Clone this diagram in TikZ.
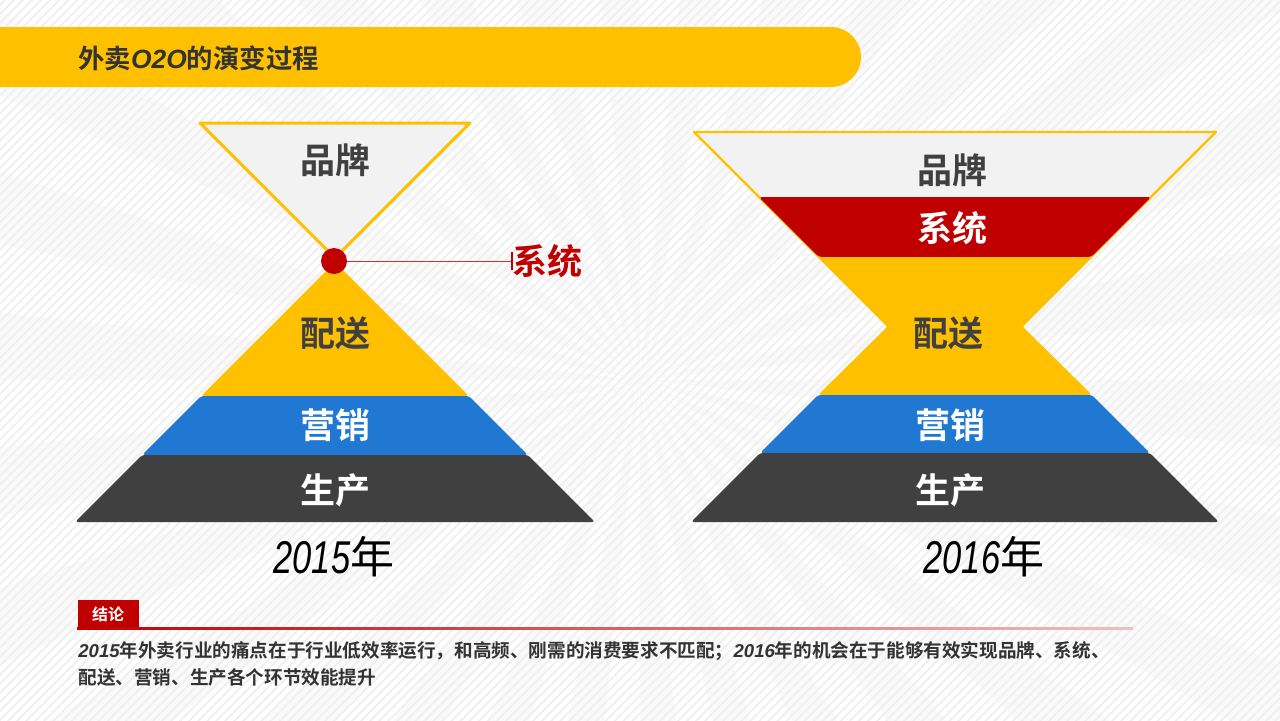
\documentclass[tikz,border=0pt]{standalone}
\usepackage{fontspec}
\usetikzlibrary{patterns.meta}
\newfontfamily\cjk{Noto Sans CJK SC}
\newfontfamily\cjkb{Noto Sans CJK SC Bold}
\newfontfamily\latb{Liberation Sans}
\newfontfamily\yearfont{Liberation Sans}[FakeStretch=0.75]

\definecolor{yel}{HTML}{FFC000}
\definecolor{redd}{HTML}{C00000}
\definecolor{blu}{HTML}{2178D2}
\definecolor{dgray}{HTML}{404040}
\definecolor{lgray}{HTML}{F2F2F2}
\definecolor{ink}{HTML}{333333}

\tikzset{
  layer/.style={font=\cjkb\fontsize{17.5}{20}\selectfont, inner sep=0pt},
  darktxt/.style={layer, text=dgray},
  lighttxt/.style={layer, text=white},
  yeartxt/.style={inner sep=0pt, font=\fontsize{23}{26}\selectfont},
  band/.style={rounded corners=1.5pt}
}

\begin{document}
\begin{tikzpicture}[x=0.5pt,y=-0.5pt]
            \useasboundingbox (0,0) rectangle (1280,720);
            \begin{scope}
            \clip (0,0) rectangle (1280,720);
            \fill[white] (0,0) rectangle (1280,720);
            \foreach \a in {0,12,...,348}
              \fill[gray!4] (640,380) -- +(\a:1700) -- +(\a+6:1700) -- cycle;
            \fill[pattern={Lines[angle=45,distance=3.2pt,line width=1pt]}, pattern color=gray!12] (0,0) rectangle (1280,720);
            \end{scope}

            % title bar
            \fill[yel, rounded corners=15pt] (-40,27) rectangle (861,87);
            \node[anchor=west, inner sep=0pt, text=ink, font=\cjkb\fontsize{13.2}{16}\selectfont] (title) at (78,58)
              {外卖{\latb\bfseries\itshape O2O}的演变过程};

            % 2015
            \filldraw[lgray, draw=yel, line width=1.5pt, line join=round] (200,123) -- (470,123) -- (335,258) -- cycle;
            \fill[yel, band] (335,262) -- (469,396) -- (201,396) -- cycle;
            \fill[blu, band] (201,396) -- (469,396) -- (528,455) -- (142,455) -- cycle;
            \fill[dgray, band] (142,455) -- (528,455) -- (595,522) -- (75,522) -- cycle;

            \node[darktxt] (brandA) at (335,160) {品牌};
            \node[darktxt] (distA) at (335,333) {配送};
            \node[lighttxt] (mktA) at (335,425) {营销};
            \node[lighttxt] (prodA) at (335,490) {生产};
            \node[circle, fill=redd, minimum size=13pt, inner sep=0pt] (dotA) at (334,261) {};
            \node[layer, text=redd, anchor=west] (sysA) at (512,261) {系统};
            \draw[redd!80, line width=0.5pt] (dotA) -- (sysA.west);
            \draw[redd, line width=0.6pt] (sysA.west) ++(0,-9) -- ++(0,18);
            \node[yeartxt] (yearA) at (334,557) {{\yearfont\itshape 2015}{\cjk\fontsize{22}{26}\selectfont 年}};

            % 2016
            \filldraw[lgray, draw=yel, line width=1.2pt, line join=round] (694,132) -- (1216,132) -- (955,393) -- cycle;
            \fill[redd, band] (759,197) -- (1151,197) -- (1091,257) -- (819,257) -- cycle;
            \fill[yel, band] (819,257) -- (1091,257) -- (1022,326) -- (1092,395) -- (818,395) -- (888,326) -- cycle;
            \fill[blu, band] (818,395) -- (1092,395) -- (1150,453) -- (760,453) -- cycle;
            \fill[dgray, band] (760,453) -- (1150,453) -- (1219,522) -- (691,522) -- cycle;

            \node[darktxt] (brandB) at (952,170) {品牌};
            \node[lighttxt] (sysB) at (952,228) {系统};
            \node[darktxt] (distB) at (948,333) {配送};
            \node[lighttxt] (mktB) at (950,425) {营销};
            \node[lighttxt] (prodB) at (950,490) {生产};
            \node[yeartxt] (yearB) at (984,557) {{\yearfont\itshape 2016}{\cjk\fontsize{22}{26}\selectfont 年}};

            % conclusion
            \node[fill=redd, text=white, minimum width=30.5pt, minimum height=14pt, inner sep=0pt,
                  font=\cjkb\fontsize{8}{9}\selectfont] (conc) at (108,614) {结论};
            \shade[left color=redd, right color=redd!25] (77,627) rectangle (1133,629);
            \node[anchor=north west, inner sep=0pt, align=left, text=ink, font=\cjkb\fontsize{9.3}{13.5}\selectfont] (summary) at (78,641)
              {{\latb\bfseries\itshape 2015}年外卖行业的痛点在于行业低效率运行，和高频、刚需的消费要求不匹配；{\latb\bfseries\itshape 2016}年的机会在于能够有效实现品牌、系统、\\
               配送、营销、生产各个环节效能提升};
        \end{tikzpicture}
\end{document}
